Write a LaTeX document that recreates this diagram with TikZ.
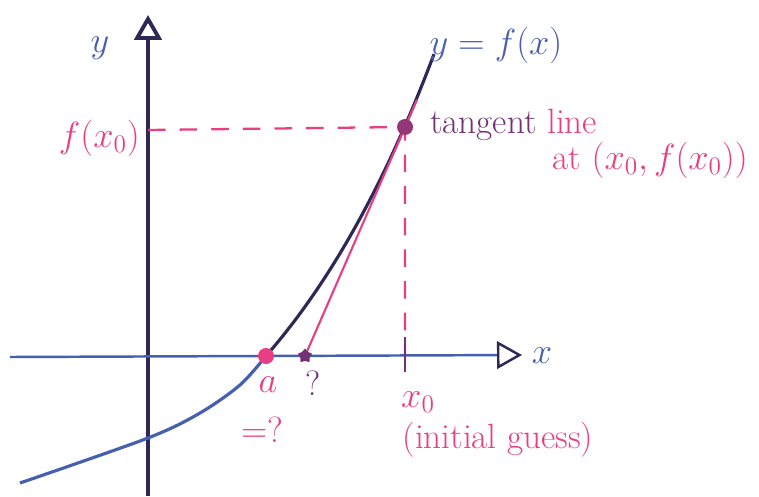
\documentclass[tikz,border=0pt]{standalone}
\usetikzlibrary{arrows.meta,shapes.geometric,calc}
\definecolor{navy}{RGB}{45,40,85}
\definecolor{penblue}{RGB}{70,95,175}
\definecolor{pink}{RGB}{232,62,132}
\definecolor{plum}{RGB}{115,50,115}
\begin{document}
\begin{tikzpicture}[x=0.02cm, y=-0.02cm,
    >={Triangle[open, length=0.5cm, width=0.55cm, color=navy]},
    lbl/.style={font=\fontsize{20}{24}\selectfont},
    dot/.style={circle, fill=#1, inner sep=0pt, minimum size=0.32cm}]
    \useasboundingbox (0,0) rectangle (759,496);

    % axes (picture units are pixels, y pointing down, x-axis at y=356)
    \draw[->, navy, line width=2.2pt] (148,496) -- (148,15);
    \draw[->, penblue, line width=1.4pt] (10,357) -- (522,355);
    \node[lbl, penblue] (ylab) at (100,48) {$y$};
    \node[lbl, penblue] (xlab) at (542,356) {$x$};

    % key points: root a, guess x0, the point on the curve, where the tangent meets y=0
    % above the axis f = 229(e^{0.005(x-266)}-1), so f(405)=229, f'(405)=2.29
    \coordinate (a) at (266,356);
    \coordinate (x0) at (405,355);
    \coordinate (P) at (405,127);
    \coordinate (fx) at (148,130);
    \coordinate (s) at (305,356);

    % dashed guides to f(x0) and x0
    \draw[pink, line width=1.3pt, dash pattern=on 10pt off 8pt] (fx) -- (P) -- (x0);
    \draw[plum, line width=1.6pt] (405,337) -- (405,372);

    % y = f(x): lighter below the axis, darker above
    \draw[penblue, line width=1.8pt] plot[smooth] coordinates
        {(20,483) (148,438) (200,413) (240,385) (a)};
    \draw[navy, line width=1.8pt] plot[domain=266:434, samples=50]
        (\x, {356-229*(exp(0.005*(\x-266))-1)});

    % tangent at (x0, f(x0)) hits y=0 at 405-229/2.29 = 305
    \draw[pink, line width=1.2pt] (s) -- (P) -- ($(s)!1.12!(P)$);

    \node[dot=pink] (adot) at (a) {};
    \node[dot=plum!70!pink] (Pdot) at (P) {};
    \node[star, star points=5, fill=plum, inner sep=0pt, minimum size=0.3cm] (sdot) at (s) {};

    % labels
    \node[lbl, pink, anchor=east] (fx0) at (146,138) {$f(x_0)$};
    \node[lbl, penblue] (fxlab) at (496,45) {$y=f(x)$};
    \node[lbl, anchor=west] (tl) at (424,125) {\textcolor{plum}{tangent} \textcolor{pink}{line}};
    \node[lbl, pink, anchor=east] (atlab) at (754,160) {at $(x_0,f(x_0))$};
    \node[lbl, pink] (alab) at (268,385) {$a$};
    \node[lbl, pink] (aq) at (262,430) {$=?$};
    \node[lbl, plum] (sq) at (313,383) {?};
    \node[lbl, pink] (x0lab) at (418,402) {$x_0$};
    \node[lbl, pink] (guess) at (498,440) {(initial guess)};
\end{tikzpicture}
\end{document}
